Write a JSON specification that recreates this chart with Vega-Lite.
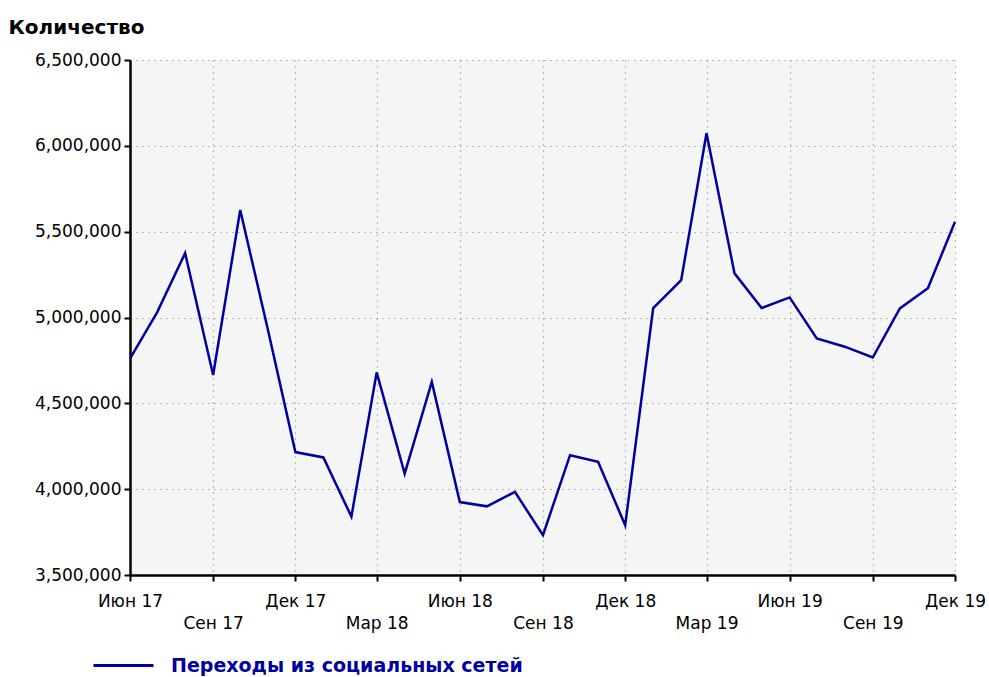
{
  "$schema": "https://vega.github.io/schema/vega-lite/v6.json",
  "width": 825,
  "height": 515,
  "autosize": {"type": "none"},
  "padding": {"left": 130, "top": 60, "right": 34, "bottom": 102},
  "background": "white",
  "config": {"view": {"fill": "#f5f5f5", "stroke": null}, "font": "DejaVu Sans"},
  "data": {"values": [
    {"month": "2017-06-01", "value": 4760000, "series": "Переходы из социальных сетей"},
    {"month": "2017-07-01", "value": 5030000, "series": "Переходы из социальных сетей"},
    {"month": "2017-08-01", "value": 5375000, "series": "Переходы из социальных сетей"},
    {"month": "2017-09-01", "value": 4665000, "series": "Переходы из социальных сетей"},
    {"month": "2017-10-01", "value": 5626000, "series": "Переходы из социальных сетей"},
    {"month": "2017-11-01", "value": 4920000, "series": "Переходы из социальных сетей"},
    {"month": "2017-12-01", "value": 4216000, "series": "Переходы из социальных сетей"},
    {"month": "2018-01-01", "value": 4185000, "series": "Переходы из социальных сетей"},
    {"month": "2018-02-01", "value": 3840000, "series": "Переходы из социальных сетей"},
    {"month": "2018-03-01", "value": 4680000, "series": "Переходы из социальных сетей"},
    {"month": "2018-04-01", "value": 4090000, "series": "Переходы из социальных сетей"},
    {"month": "2018-05-01", "value": 4625000, "series": "Переходы из социальных сетей"},
    {"month": "2018-06-01", "value": 3925000, "series": "Переходы из социальных сетей"},
    {"month": "2018-07-01", "value": 3900000, "series": "Переходы из социальных сетей"},
    {"month": "2018-08-01", "value": 3984000, "series": "Переходы из социальных сетей"},
    {"month": "2018-09-01", "value": 3732000, "series": "Переходы из социальных сетей"},
    {"month": "2018-10-01", "value": 4198000, "series": "Переходы из социальных сетей"},
    {"month": "2018-11-01", "value": 4159000, "series": "Переходы из социальных сетей"},
    {"month": "2018-12-01", "value": 3790000, "series": "Переходы из социальных сетей"},
    {"month": "2019-01-01", "value": 5055000, "series": "Переходы из социальных сетей"},
    {"month": "2019-02-01", "value": 5218000, "series": "Переходы из социальных сетей"},
    {"month": "2019-03-01", "value": 6073000, "series": "Переходы из социальных сетей"},
    {"month": "2019-04-01", "value": 5257000, "series": "Переходы из социальных сетей"},
    {"month": "2019-05-01", "value": 5055000, "series": "Переходы из социальных сетей"},
    {"month": "2019-06-01", "value": 5117000, "series": "Переходы из социальных сетей"},
    {"month": "2019-07-01", "value": 4878000, "series": "Переходы из социальных сетей"},
    {"month": "2019-08-01", "value": 4830000, "series": "Переходы из социальных сетей"},
    {"month": "2019-09-01", "value": 4767000, "series": "Переходы из социальных сетей"},
    {"month": "2019-10-01", "value": 5053000, "series": "Переходы из социальных сетей"},
    {"month": "2019-11-01", "value": 5170000, "series": "Переходы из социальных сетей"},
    {"month": "2019-12-01", "value": 5558000, "series": "Переходы из социальных сетей"}
  ]},
  "mark": {"type": "line", "strokeWidth": 2.5, "interpolate": "linear"},
  "encoding": {
    "x": {
      "field": "month",
      "type": "temporal",
      "scale": {"type": "utc", "domain": [{"year": 2017, "month": 6, "date": 1, "utc": true}, {"year": 2019, "month": 12, "date": 1, "utc": true}]},
      "axis": {
        "title": null,
        "values": [
          {"year": 2017, "month": 6, "date": 1, "utc": true},
          {"year": 2017, "month": 9, "date": 1, "utc": true},
          {"year": 2017, "month": 12, "date": 1, "utc": true},
          {"year": 2018, "month": 3, "date": 1, "utc": true},
          {"year": 2018, "month": 6, "date": 1, "utc": true},
          {"year": 2018, "month": 9, "date": 1, "utc": true},
          {"year": 2018, "month": 12, "date": 1, "utc": true},
          {"year": 2019, "month": 3, "date": 1, "utc": true},
          {"year": 2019, "month": 6, "date": 1, "utc": true},
          {"year": 2019, "month": 9, "date": 1, "utc": true},
          {"year": 2019, "month": 12, "date": 1, "utc": true}
        ],
        "labelExpr": "(utcmonth(datum.value) == 5 || utcmonth(datum.value) == 11) ? ((utcmonth(datum.value) == 5 ? 'Июн ' : 'Дек ') + utcFormat(datum.value, '%y')) : ['', (utcmonth(datum.value) == 8 ? 'Сен ' : 'Мар ') + utcFormat(datum.value, '%y')]",
        "labelFontSize": 17,
        "labelColor": "black",
        "labelLineHeight": 22,
        "labelPadding": 12,
        "labelOverlap": false,
        "labelFlush": false,
        "labelBound": false,
        "domainColor": "black",
        "domainWidth": 2.5,
        "tickColor": "black",
        "tickWidth": 2,
        "tickSize": 6,
        "grid": true,
        "gridColor": "#808080",
        "gridDash": [1, 5],
        "gridWidth": 1.2
      }
    },
    "y": {
      "field": "value",
      "type": "quantitative",
      "scale": {"domain": [3500000, 6500000], "zero": false, "nice": false},
      "axis": {
        "values": [3500000, 4000000, 4500000, 5000000, 5500000, 6000000, 6500000],
        "format": ",d",
        "labelFontSize": 17,
        "labelColor": "black",
        "labelPadding": 3,
        "domainColor": "black",
        "domainWidth": 2.5,
        "tickColor": "black",
        "tickWidth": 2,
        "tickSize": 6,
        "grid": true,
        "gridColor": "#808080",
        "gridDash": [1, 5],
        "gridWidth": 1.2,
        "title": "Количество",
        "titleAngle": 0,
        "titleAlign": "left",
        "titleBaseline": "alphabetic",
        "titleX": -122,
        "titleY": -27,
        "titleFontSize": 20,
        "titleFontWeight": "bold",
        "titleColor": "black"
      }
    },
    "color": {
      "field": "series",
      "type": "nominal",
      "scale": {"range": ["#0000a0"]},
      "legend": {
        "orient": "none",
        "legendX": -38,
        "legendY": 574,
        "title": null,
        "symbolType": "stroke",
        "symbolSize": 3600,
        "symbolStrokeWidth": 3,
        "labelFontSize": 19,
        "labelFontWeight": "bold",
        "labelColor": "#0000a0",
        "labelOffset": 16,
        "labelLimit": 700
      }
    }
  }
}
